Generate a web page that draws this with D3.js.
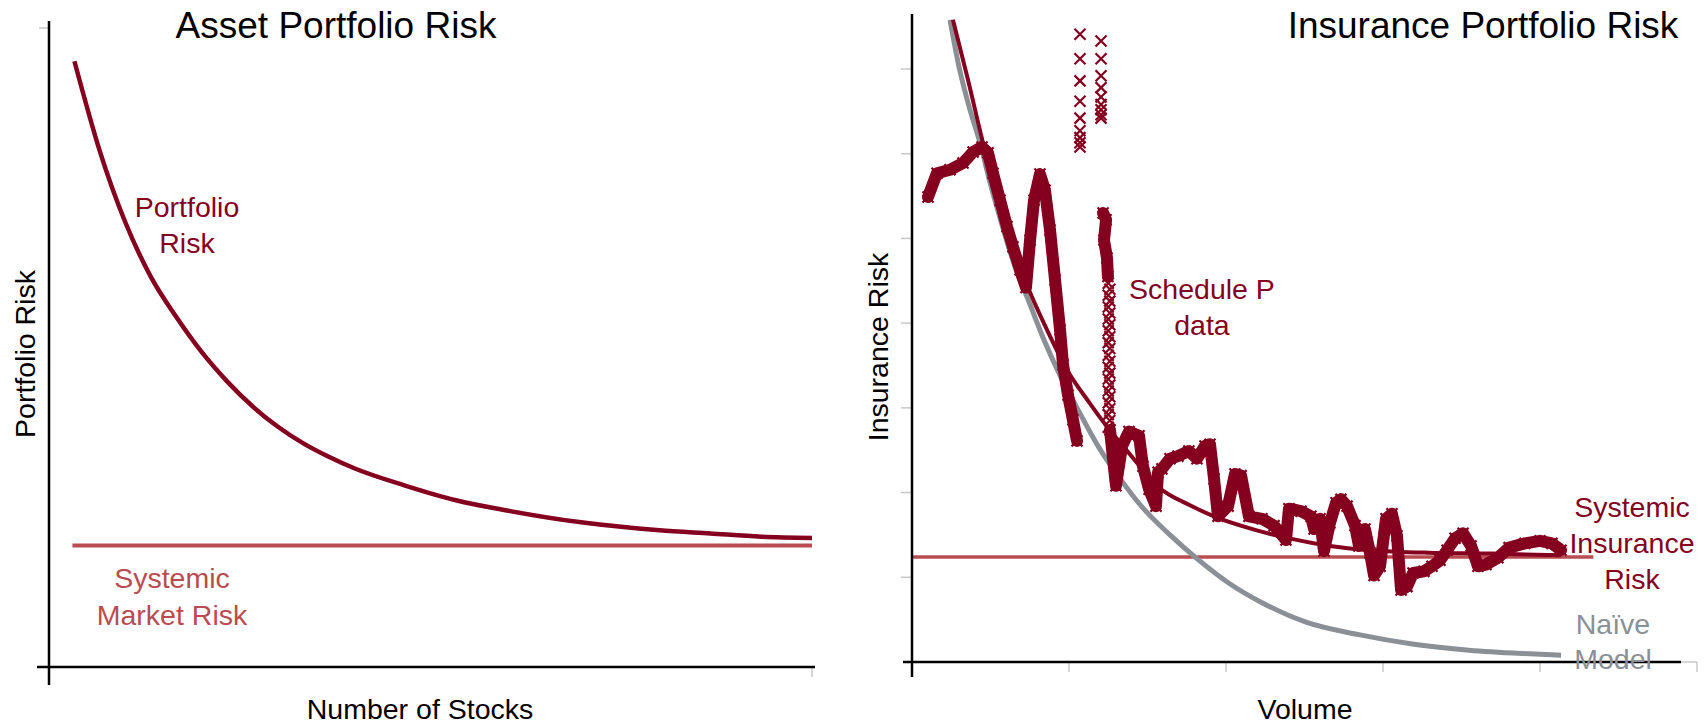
<!DOCTYPE html>
<html lang="en">
<head>
<meta charset="UTF-8">
<title>Asset vs Insurance Portfolio Risk</title>
<script src="https://d3js.org/d3.v7.min.js"></script>
<style>
    body { margin: 0; background: #fff; }
    svg { display: block; font-family: "Liberation Sans", Arial, sans-serif; }
</style>
</head>
<body>
<svg id="chart" width="1706" height="724"></svg>
<script>
// ---- left chart: asset portfolio ----
const stocks = [1, 2, 3, 4, 5, 6, 7, 8, 9, 10, 11, 12, 14, 16, 18, 21, 24, 26, 28, 30];
const portfolioRisk = [94.8, 80.7, 69.6, 61.1, 54.8, 49.3, 44.7, 40.8, 37.6, 35.0, 32.9, 31.1, 28.4, 26.1, 24.5, 22.6, 21.4, 20.9, 20.4, 20.2];
const marketRisk = 19.0;

// ---- right chart: insurance portfolio ----
const insuranceRiskLevel = 1.24;
const naiveVolume = [0.242, 0.30, 0.36, 0.433, 0.50, 0.57, 0.65, 0.752, 0.841, 0.949, 1.051, 1.191, 1.331, 1.465, 1.643, 1.815, 2.019, 2.229, 2.51, 2.854, 3.197, 3.548, 3.892, 4.134];
const naiveRisk = [7.58, 7.02, 6.58, 6.13, 5.64, 5.18, 4.70, 4.22, 3.80, 3.36, 3.00, 2.53, 2.15, 1.83, 1.50, 1.22, 0.93, 0.70, 0.47, 0.32, 0.21, 0.14, 0.10, 0.08];
const fitVolume = [0.261, 0.357, 0.452, 0.561, 0.656, 0.707, 0.860, 0.987, 1.134, 1.204, 1.389, 1.567, 1.771, 1.936, 2.185, 2.427, 2.662, 2.917, 3.287, 3.682, 4.134];
const fitRisk = [7.58, 6.87, 6.13, 5.37, 4.80, 4.56, 3.92, 3.45, 3.05, 2.87, 2.45, 2.07, 1.85, 1.71, 1.56, 1.45, 1.37, 1.32, 1.29, 1.28, 1.26];

// Schedule P observations (volume, risk) - dense runs
const schedPRuns = [
    [[0.102, 5.49], [0.159, 5.77], [0.242, 5.81], [0.325, 5.89], [0.389, 6.02], [0.446, 6.08], [0.484, 6.01],
     [0.516, 5.77], [0.561, 5.45], [0.605, 5.14], [0.643, 4.90], [0.688, 4.63], [0.726, 4.42], [0.752, 4.98],
     [0.777, 5.45], [0.815, 5.76], [0.847, 5.57], [0.879, 5.10], [0.911, 4.51], [0.943, 3.92], [0.962, 3.51],
     [0.994, 3.15], [1.025, 2.86], [1.051, 2.61]],
    [[1.217, 5.30], [1.236, 5.22], [1.223, 4.98], [1.242, 4.77], [1.248, 4.55]],
    [[1.261, 2.74], [1.299, 2.08], [1.338, 2.55], [1.382, 2.72], [1.446, 2.67], [1.471, 2.31], [1.510, 2.04],
     [1.554, 1.84], [1.567, 2.24], [1.592, 2.28], [1.643, 2.40], [1.694, 2.43], [1.764, 2.49], [1.815, 2.40],
     [1.866, 2.55], [1.898, 2.57], [1.924, 2.16], [1.949, 1.72], [2.013, 1.84], [2.057, 2.22], [2.096, 2.20],
     [2.146, 1.72], [2.229, 1.69], [2.306, 1.61], [2.382, 1.44], [2.401, 1.81], [2.478, 1.78], [2.541, 1.72],
     [2.561, 1.57], [2.599, 1.69], [2.624, 1.31], [2.662, 1.64], [2.701, 1.88], [2.732, 1.92], [2.771, 1.84],
     [2.822, 1.61], [2.847, 1.37], [2.885, 1.57], [2.917, 1.29], [2.943, 1.02], [2.981, 1.13], [3.019, 1.69],
     [3.057, 1.75], [3.089, 1.49], [3.115, 0.85], [3.153, 0.89], [3.191, 1.05], [3.261, 1.07], [3.312, 1.13],
     [3.363, 1.20], [3.408, 1.32], [3.459, 1.46], [3.510, 1.52], [3.561, 1.37], [3.605, 1.13], [3.656, 1.15],
     [3.732, 1.23], [3.803, 1.35], [3.904, 1.40], [4.000, 1.43], [4.076, 1.40], [4.134, 1.32]]
];
// Schedule P observations - scattered points
const schedPSparse = [
    [1.070, 6.08], [1.070, 6.13], [1.070, 6.19], [1.070, 6.27], [1.070, 6.42], [1.070, 6.62], [1.070, 6.86], [1.070, 7.12], [1.070, 7.41],
    [1.204, 6.42], [1.204, 6.46], [1.204, 6.52], [1.204, 6.58], [1.204, 6.67], [1.204, 6.78], [1.204, 6.92], [1.204, 7.12], [1.204, 7.33],
    [1.25, 4.47], [1.26, 4.40], [1.25, 4.33], [1.26, 4.26], [1.25, 4.19], [1.26, 4.12], [1.25, 4.05], [1.26, 3.98],
    [1.25, 3.91], [1.26, 3.84], [1.25, 3.77], [1.26, 3.70], [1.25, 3.62], [1.26, 3.55], [1.25, 3.48], [1.26, 3.41],
    [1.25, 3.34], [1.26, 3.27], [1.25, 3.20], [1.26, 3.13], [1.25, 3.06], [1.26, 2.99], [1.25, 2.92], [1.26, 2.85], [1.25, 2.77]
];

const darkRed = "#85001f";
const lightRed = "#b84c51";
const grey = "#8a9096";
const tickGrey = "#c8c8c8";

const svg = d3.select("#chart");

// ================= LEFT =================
const xL = d3.scaleLinear().domain([0, 30]).range([49, 812]);
const yL = d3.scaleLinear().domain([0, 100]).range([667, 28]);

const left = svg.append("g");

// ticks (grey)
left.append("line").attr("x1", xL(0) - 10).attr("x2", xL(0)).attr("y1", yL(100)).attr("y2", yL(100))
    .attr("stroke", tickGrey).attr("stroke-width", 1.5);
left.append("line").attr("x1", xL(30)).attr("x2", xL(30)).attr("y1", yL(0)).attr("y2", yL(0) + 10)
    .attr("stroke", tickGrey).attr("stroke-width", 1.5);

// systemic market risk
left.append("line")
    .attr("x1", xL(stocks[0]) - 2).attr("x2", xL(stocks[stocks.length - 1]))
    .attr("y1", yL(marketRisk)).attr("y2", yL(marketRisk))
    .attr("stroke", lightRed).attr("stroke-width", 4);

// portfolio risk curve
left.append("path")
    .datum(stocks.map((s, i) => [s, portfolioRisk[i]]))
    .attr("fill", "none")
    .attr("stroke", darkRed)
    .attr("stroke-width", 4.5)
    .attr("d", d3.line().x(d => xL(d[0])).y(d => yL(d[1])).curve(d3.curveMonotoneX));

// axes
left.append("line").attr("x1", xL(0)).attr("x2", xL(0)).attr("y1", 21).attr("y2", yL(0) + 18)
    .attr("stroke", "#000").attr("stroke-width", 2.5);
left.append("line").attr("x1", xL(0) - 12).attr("x2", xL(30) + 3).attr("y1", yL(0)).attr("y2", yL(0))
    .attr("stroke", "#000").attr("stroke-width", 2.5);

left.append("text").attr("x", 336).attr("y", 38).attr("text-anchor", "middle")
    .attr("font-size", 37).text("Asset Portfolio Risk");
left.append("text").attr("x", 420).attr("y", 719).attr("text-anchor", "middle")
    .attr("font-size", 28.5).text("Number of Stocks");
left.append("text").attr("transform", "translate(35,354) rotate(-90)").attr("text-anchor", "middle")
    .attr("font-size", 28.5).text("Portfolio Risk");

const leftNotes = [
    { lines: ["Portfolio", "Risk"], x: 187, y: 217, step: 36, color: darkRed },
    { lines: ["Systemic", "Market Risk"], x: 172, y: 588, step: 37, color: lightRed }
];

// ================= RIGHT =================
const xR = d3.scaleLinear().domain([0, 5]).range([912, 1697]);
const yR = d3.scaleLinear().domain([0, 7]).range([662, 69]);

const right = svg.append("g");
svg.append("defs").append("clipPath").attr("id", "plotR")
    .append("rect").attr("x", 912).attr("y", 16).attr("width", 794).attr("height", 646);

// ticks
right.append("g").selectAll("line").data(d3.range(1, 8)).join("line")
    .attr("x1", xR(0) - 11).attr("x2", xR(0)).attr("y1", d => yR(d)).attr("y2", d => yR(d))
    .attr("stroke", tickGrey).attr("stroke-width", 1.5);
right.append("g").selectAll("line").data(d3.range(1, 6)).join("line")
    .attr("x1", d => xR(d)).attr("x2", d => xR(d)).attr("y1", yR(0)).attr("y2", yR(0) + 10)
    .attr("stroke", tickGrey).attr("stroke-width", 1.5);
right.append("line").attr("x1", 1681).attr("x2", xR(5)).attr("y1", yR(0)).attr("y2", yR(0))
    .attr("stroke", tickGrey).attr("stroke-width", 1.5);

const plot = right.append("g").attr("clip-path", "url(#plotR)");

plot.append("line")
    .attr("x1", xR(0)).attr("x2", xR(4.34))
    .attr("y1", yR(insuranceRiskLevel)).attr("y2", yR(insuranceRiskLevel))
    .attr("stroke", lightRed).attr("stroke-width", 3.5);

plot.append("path")
    .datum(naiveVolume.map((v, i) => [v, naiveRisk[i]]))
    .attr("fill", "none").attr("stroke", grey).attr("stroke-width", 5)
    .attr("d", d3.line().x(d => xR(d[0])).y(d => yR(d[1])).curve(d3.curveMonotoneX));

plot.append("path")
    .datum(fitVolume.map((v, i) => [v, fitRisk[i]]))
    .attr("fill", "none").attr("stroke", darkRed).attr("stroke-width", 4)
    .attr("d", d3.line().x(d => xR(d[0])).y(d => yR(d[1])).curve(d3.curveMonotoneX));

// Schedule P: dense runs of x-markers
const lineP = d3.line().x(d => xR(d[0])).y(d => yR(d[1]));
plot.append("g").selectAll("path").data(schedPRuns).join("path")
    .attr("fill", "none").attr("stroke", darkRed).attr("stroke-width", 12)
    .attr("stroke-linejoin", "round").attr("stroke-linecap", "round")
    .attr("d", lineP);

const cross = s => `M${-s},${-s}L${s},${s}M${-s},${s}L${s},${-s}`;
plot.append("g").selectAll("path")
    .data(schedPRuns.flat().concat(schedPSparse))
    .join("path")
    .attr("transform", d => `translate(${xR(d[0])},${yR(d[1])})`)
    .attr("d", cross(5.5))
    .attr("fill", "none").attr("stroke", darkRed).attr("stroke-width", 2.2);

// axes
right.append("line").attr("x1", xR(0)).attr("x2", xR(0)).attr("y1", 14).attr("y2", yR(0) + 15)
    .attr("stroke", "#000").attr("stroke-width", 2.5);
right.append("line").attr("x1", xR(0) - 9).attr("x2", 1681).attr("y1", yR(0)).attr("y2", yR(0))
    .attr("stroke", "#000").attr("stroke-width", 2.5);

right.append("text").attr("x", 1483).attr("y", 38).attr("text-anchor", "middle")
    .attr("font-size", 37).text("Insurance Portfolio Risk");
right.append("text").attr("x", 1305).attr("y", 719).attr("text-anchor", "middle")
    .attr("font-size", 28.5).text("Volume");
right.append("text").attr("transform", "translate(888,347) rotate(-90)").attr("text-anchor", "middle")
    .attr("font-size", 28.5).text("Insurance Risk");

const rightNotes = [
    { lines: ["Schedule P", "data"], x: 1202, y: 299, step: 36, color: darkRed },
    { lines: ["Systemic", "Insurance", "Risk"], x: 1632, y: 517, step: 36, color: darkRed },
    { lines: ["Naïve", "Model"], x: 1613, y: 634, step: 35, color: grey }
];

// annotations
leftNotes.concat(rightNotes).forEach(n => {
    const t = svg.append("text").attr("text-anchor", "middle").attr("font-size", 28.5).attr("fill", n.color);
    n.lines.forEach((l, i) => {
        t.append("tspan").attr("x", n.x).attr("y", n.y + i * n.step).text(l);
    });
});
</script>
</body>
</html>
